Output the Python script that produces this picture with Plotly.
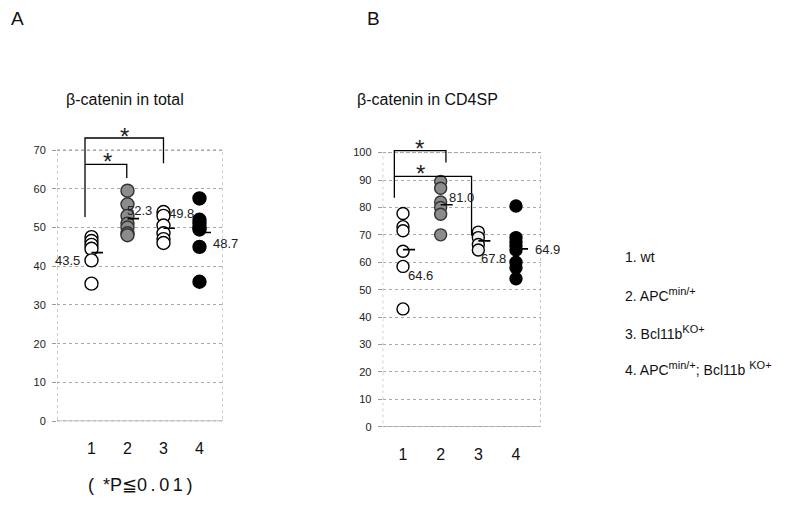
import plotly.graph_objects as go

# ---------------- data ----------------
groups = [1, 2, 3, 4]
group_labels = ["1", "2", "3", "4"]

A_g1 = [47.5, 46.5, 45.5, 44.5, 41.5, 35.5]
A_g2 = [59.5, 56, 53, 51, 50, 48.5, 48]
A_g3 = [54, 53, 50.5, 48.5, 47, 46]
A_g4 = [57.5, 52, 51, 50, 49.5, 45, 36]
A_means = [43.5, 52.3, 49.8, 48.7]
A_yticks = [0, 10, 20, 30, 40, 50, 60, 70]

B_g1 = [77.8, 73, 71.5, 64, 58.5, 43]
B_g2 = [89.5, 87, 82, 80, 77.5, 70]
B_g3 = [71, 69, 66.5, 64.5]
B_g4 = [80.5, 69, 67.5, 66, 64.5, 60, 58, 54]
B_means = [64.6, 81.0, 67.8, 64.9]
B_yticks = [0, 10, 20, 30, 40, 50, 60, 70, 80, 90, 100]

SUP = "<sup><span style='font-size:11px'>{}</span></sup>"
legend_lines = ["1. wt",
                "2. APC" + SUP.format("min/+"),
                "3. Bcl11b" + SUP.format("KO+"),
                "4. APC" + SUP.format("min/+") + "; Bcl11b " + SUP.format("KO+")]
footnote = "(\u2002*P≦0\u2009.\u20090\u20091\u2009)"

W, H = 796, 529
FONT = "Liberation Sans, Arial, sans-serif"

fig = go.Figure()

stylesA = [
    dict(color="white", line=dict(color="black", width=1.4)),
    dict(color="#8c8c8c", line=dict(color="#333333", width=1.4)),
    dict(color="white", line=dict(color="black", width=1.4)),
    dict(color="black", line=dict(color="black", width=1.4)),
]
stylesB = [
    dict(color="white", line=dict(color="black", width=1.4)),
    dict(color="#8c8c8c", line=dict(color="#333333", width=1.4)),
    dict(color="#efefef", line=dict(color="black", width=1.4)),
    dict(color="black", line=dict(color="black", width=1.4)),
]

def add_panel(gvals, means, xa, ya, stl, msize):
    for g, vals, s in zip(groups, gvals, stl):
        fig.add_trace(go.Scatter(x=[g] * len(vals), y=vals, mode="markers",
                                 marker=dict(size=msize, **s), xaxis=xa, yaxis=ya,
                                 showlegend=False, hoverinfo="y"))
    for g, m in zip(groups, means):
        fig.add_trace(go.Scatter(x=[g, g + 0.32], y=[m, m], mode="lines",
                                 line=dict(color="black", width=1.6), xaxis=xa, yaxis=ya,
                                 showlegend=False, hoverinfo="skip"))

add_panel([A_g1, A_g2, A_g3, A_g4], A_means, "x", "y", stylesA, 13)
add_panel([B_g1, B_g2, B_g3, B_g4], B_means, "x2", "y2", stylesB, 12)

def bracket(x0, x1, ybase, ytop, yend, xa, ya):
    fig.add_trace(go.Scatter(x=[x0, x0, x1, x1], y=[ybase, ytop, ytop, yend], mode="lines",
                             line=dict(color="black", width=1.3), xaxis=xa, yaxis=ya,
                             showlegend=False, hoverinfo="skip"))

# Panel A brackets (1 vs 3 and 1 vs 2)
bracket(0.82, 3.0, 52.7, 73.1, 66.6, "x", "y")
bracket(0.82, 1.98, 66.3, 66.3, 62.8, "x", "y")
# Panel B brackets (1 vs 2 and 1 vs 3)
bracket(0.77, 2.14, 83.5, 100.7, 96.4, "x2", "y2")
bracket(0.77, 2.82, 91.3, 91.3, 69.7, "x2", "y2")

ann = []
def txt(x, y, s, xref, yref, size=13, **kw):
    ann.append(dict(x=x, y=y, text=s, xref=xref, yref=yref, showarrow=False,
                    font=dict(family=FONT, size=size, color="#222222"), **kw))

# mean labels A
txt(0.34, 41.5, f"{A_means[0]:.1f}", "x", "y")
txt(2.33, 54.4, f"{A_means[1]:.1f}", "x", "y")
txt(3.51, 53.7, f"{A_means[2]:.1f}", "x", "y")
txt(4, 45.8, f"{A_means[3]:.1f}", "x", "y", xanchor="left", xshift=12)
# mean labels B
txt(1.47, 55.3, f"{B_means[0]:.1f}", "x2", "y2")
txt(2.55, 83.8, f"{B_means[1]:.1f}", "x2", "y2")
txt(3.4, 61.3, f"{B_means[2]:.1f}", "x2", "y2")
txt(4, 64.5, f"{B_means[3]:.1f}", "x2", "y2", xanchor="left", xshift=17)

# asterisks
txt(1.93, 74.0, "*", "x", "y", size=24, yanchor="middle", yshift=-2)
txt(1.45, 67.6, "*", "x", "y", size=24, yanchor="middle", yshift=-2)
txt(1.45, 102.3, "*", "x2", "y2", size=24, yanchor="middle", yshift=-2)
txt(1.47, 93.0, "*", "x2", "y2", size=24, yanchor="middle", yshift=-2)

# paper texts
def ptxt(px, py, s, size, anchor="left", family=FONT):
    ann.append(dict(x=px / W, y=1 - py / H, text=s, xref="paper", yref="paper",
                    showarrow=False, xanchor=anchor, yanchor="middle",
                    font=dict(family=family, size=size, color="#111111")))

ptxt(9, 19, "A", 19)
ptxt(365, 19, "B", 19)
ptxt(125, 101, "β-catenin in total", 16, "center")
ptxt(427, 101, "β-catenin in CD4SP", 16, "center")
for i, s in enumerate(legend_lines):
    ptxt(623, [260, 298, 336, 373][i], s, 14)
ptxt(86, 491, footnote, 18)

fig.update_layout(annotations=ann)

# borders of plot areas (0..max tick)
for xa, ya, xr, ymax in [("x", "y", (0.042, 4.653), 70), ("x2", "y2", (0.461, 4.656), 100)]:
    fig.add_shape(type="rect", xref=xa, yref=ya, x0=xr[0], x1=xr[1], y0=0, y1=ymax,
                  line=dict(color="#9a9a9a", width=1, dash="dot"), layer="below")
    fig.add_shape(type="line", xref=xa, yref=ya, x0=xr[0], x1=xr[1], y0=0, y1=0,
                  line=dict(color="#888888", width=1), layer="below")

axis_common = dict(showline=False, zeroline=False, fixedrange=True)
fig.update_layout(
    width=W, height=H, margin=dict(l=0, r=0, t=0, b=0),
    paper_bgcolor="white", plot_bgcolor="white", showlegend=False,
    xaxis=dict(domain=[57 / W, 223 / W], range=[0.042, 4.653], tickvals=groups,
               ticktext=group_labels, showgrid=False, ticks="", ticklabelstandoff=16,
               tickfont=dict(family=FONT, size=16, color="#111111"), **axis_common),
    yaxis=dict(domain=[1 - 426 / H, 1 - 120.4 / H], range=[0, 78], tickvals=A_yticks,
               showgrid=True, gridcolor="#a8a8a8", griddash="dot", gridwidth=1,
               ticks="outside", ticklen=4, tickcolor="#9a9a9a", ticklabelstandoff=4,
               tickfont=dict(family=FONT, size=11, color="#222222"), **axis_common),
    xaxis2=dict(domain=[382.7 / W, 540.7 / W], range=[0.461, 4.656], tickvals=groups,
                ticktext=group_labels, showgrid=False, ticks="", ticklabelstandoff=16,
                tickfont=dict(family=FONT, size=16, color="#111111"), anchor="y2",
                **axis_common),
    yaxis2=dict(domain=[1 - 431.7 / H, 1 - 137.7 / H], range=[0, 106], tickvals=B_yticks,
                showgrid=True, gridcolor="#a8a8a8", griddash="dot", gridwidth=1,
                ticks="outside", ticklen=4, tickcolor="#9a9a9a", ticklabelstandoff=4,
                tickfont=dict(family=FONT, size=11, color="#222222"), anchor="x2",
                **axis_common),
)

fig.write_html("out.html", config={"displayModeBar": False},
               post_script="document.body.style.margin='0';")
